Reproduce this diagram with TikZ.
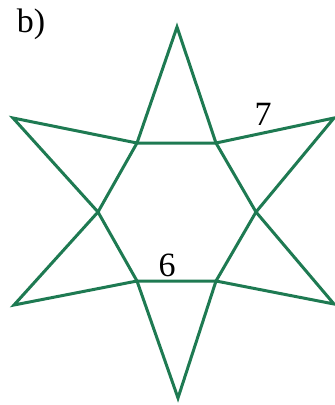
\documentclass[tikz,border=0pt]{standalone}
\usepackage{fontspec}
\setmainfont{Liberation Serif}
\definecolor{stargreen}{RGB}{30,122,82}
\tikzset{
  starline/.style={draw=stargreen, line width=3pt, line join=miter},
  lbl/.style={inner sep=0pt, font=\fontsize{34}{40}\selectfont}
}
\begin{document}
\begin{tikzpicture}[x=1pt,y=-1pt]
\useasboundingbox (0,0) rectangle (335,405);
% tips
\coordinate (T)  at (177,27);
\coordinate (UR) at (334,118);
\coordinate (LR) at (334,304);
\coordinate (Bo) at (178,398);
\coordinate (LL) at (14,305);
\coordinate (UL) at (13,118);
% inner hexagon
\coordinate (A) at (137,143);
\coordinate (B) at (216,143);
\coordinate (C) at (256,212);
\coordinate (D) at (216,281);
\coordinate (E) at (137,281);
\coordinate (F) at (98,212);
\draw[starline] (T) -- (B) -- (UR) -- (C) -- (LR) -- (D) -- (Bo) -- (E) -- (LL) -- (F) -- (UL) -- (A) -- cycle;
\draw[starline] (A) -- (B) -- (C) -- (D) -- (E) -- (F) -- cycle;
\node[lbl] (lab) at (31,24) {b)};
\node[lbl] (seven) at (263,114) {7};
\node[lbl] (six) at (167,265) {6};
\end{tikzpicture}
\end{document}
